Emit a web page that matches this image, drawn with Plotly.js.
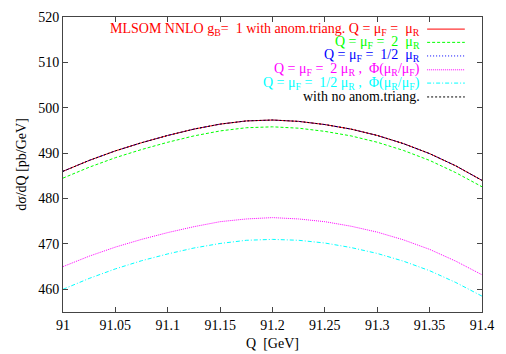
<!DOCTYPE html>
<html><head><meta charset="utf-8">
<script src="https://cdn.plot.ly/plotly-3.0.1.min.js"></script>
<style>body{margin:0;background:#fff}#c{width:506px;height:354px}</style>
</head><body><div id="c"></div><script>
const Q = [91.000,91.025,91.050,91.075,91.100,91.125,91.150,91.175,91.200,91.225,91.250,91.275,91.300,91.325,91.350,91.375,91.400];
const central = [486.0,488.4,490.5,492.3,493.9,495.3,496.4,497.1,497.3,497.0,496.3,495.3,493.9,492.1,489.9,487.2,484.0];
const scale2 = [484.5,486.9,489.0,490.8,492.4,493.8,494.9,495.6,495.8,495.5,494.8,493.8,492.4,490.6,488.4,485.7,482.6];
const scaleHalf = [486.0,488.4,490.5,492.3,493.9,495.3,496.4,497.1,497.3,497.0,496.3,495.3,493.9,492.1,489.9,487.2,484.0];
const scale2Phi = [465.0,467.3,469.3,471.0,472.5,473.8,474.9,475.5,475.8,475.5,474.9,473.9,472.6,470.9,468.8,466.2,463.2];
const scaleHalfPhi = [460.0,462.4,464.5,466.3,467.8,469.1,470.1,470.8,471.0,470.8,470.2,469.2,467.9,466.2,464.1,461.5,458.5];
const noAnom = [486.0,488.4,490.5,492.3,493.9,495.3,496.4,497.1,497.3,497.0,496.3,495.3,493.9,492.1,489.9,487.2,484.0];
const labels = [
 "MLSOM NNLO g<sub>B</sub>=  1 with anom.triang. Q = μ<sub>F</sub> =  μ<sub>R</sub>",
 "Q = μ<sub>F</sub> =  2  μ<sub>R</sub>",
 "Q = μ<sub>F</sub> =  1/2  μ<sub>R</sub>",
 "Q = μ<sub>F</sub> =  2 μ<sub>R</sub> ,  Φ(μ<sub>R</sub>/μ<sub>F</sub>)",
 "Q = μ<sub>F</sub> =  1/2 μ<sub>R</sub> ,  Φ(μ<sub>R</sub>/μ<sub>F</sub>)",
 "with no anom.triang."
];
const xTicks = [91,91.05,91.1,91.15,91.2,91.25,91.3,91.35,91.4];
const xTickText = ["91","91.05","91.1","91.15","91.2","91.25","91.3","91.35","91.4"];
const yTicks = [460,470,480,490,500,510,520];

const series = [central, scale2, scaleHalf, scale2Phi, scaleHalfPhi, noAnom];
const colors = ["#ff0000","#00ff00","#0000ff","#ff00ff","#00ffff","#000000"];
const dashes = ["solid","3px,2px","1px,2px","1px,1px","4px,2px,1px,2px","2px,2px"];

const traces = series.map((s,i)=>({x:Q,y:s,type:"scatter",mode:"lines",
  line:{color:colors[i],width:1,dash:dashes[i]},showlegend:false,hoverinfo:"skip"}));

const rowY = [0.959,0.914,0.868,0.821,0.776,0.729];
const annotations = labels.map((t,i)=>({xref:"paper",yref:"paper",x:0.857,y:rowY[i],
  xanchor:"right",yanchor:"middle",text:t,showarrow:false,
  font:{family:"Liberation Serif, Times New Roman, serif",size:14,color:colors[i]}}));
const shapes = labels.map((t,i)=>({type:"line",xref:"paper",yref:"paper",x0:0.869,x1:0.959,
  y0:rowY[i],y1:rowY[i],line:{color:colors[i],width:1,dash:dashes[i]}}));

const font = {family:"Liberation Serif, Times New Roman, serif",size:14,color:"#000"};
Plotly.newPlot("c",traces,{
  width:506,height:354,margin:{l:63,r:24,t:17,b:42},
  paper_bgcolor:"#fff",plot_bgcolor:"#fff",font:font,
  xaxis:{range:[91,91.4],tickvals:xTicks,ticktext:xTickText,ticks:"inside",ticklen:5,
    mirror:"ticks",showline:true,linecolor:"#444",linewidth:1,showgrid:false,zeroline:false,
    tickcolor:"#444",tickfont:font,title:{text:"Q  [GeV]",font:font,standoff:6}},
  yaxis:{range:[455,520],tickvals:yTicks,ticks:"inside",ticklen:5,
    mirror:"ticks",showline:true,linecolor:"#444",linewidth:1,showgrid:false,zeroline:false,
    tickcolor:"#444",tickfont:font,title:{text:"dσ/dQ [pb/GeV]",font:font,standoff:8}},
  annotations:annotations,shapes:shapes
},{staticPlot:true});
</script></body></html>
